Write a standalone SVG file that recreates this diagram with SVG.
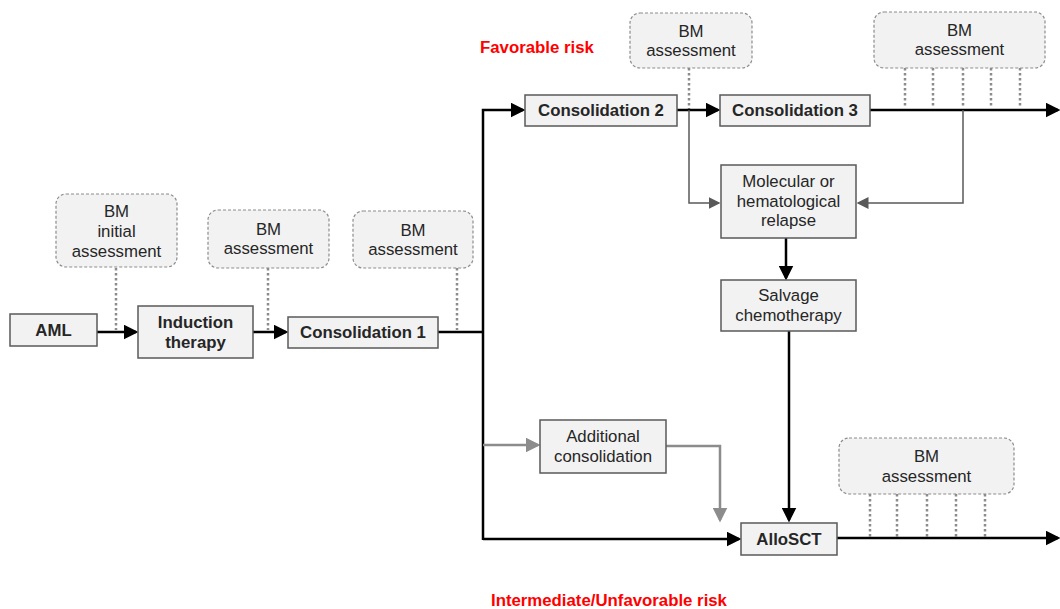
<svg xmlns="http://www.w3.org/2000/svg" width="1060" height="609" viewBox="0 0 1060 609">
<defs>
<style>
.box{fill:#f2f2f2;stroke:#595959;stroke-width:1.5}
.bm{fill:#f2f2f2;stroke:#8c8c8c;stroke-width:1.2;stroke-dasharray:3 2}
.t{font-family:"Liberation Sans",Arial,sans-serif;font-size:16.8px;fill:#262626;text-anchor:middle}
.b{font-weight:bold}
.red{font-family:"Liberation Sans",Arial,sans-serif;font-size:16.8px;font-weight:bold;fill:#ff0000}
.k{fill:none;stroke:#000;stroke-width:2.5}
.g{fill:none;stroke:#8c8c8c;stroke-width:2.5}
.d{fill:none;stroke:#595959;stroke-width:1.5}
.dot{fill:none;stroke:#8c8c8c;stroke-width:2.5;stroke-dasharray:2.5 2.5}
</style>
<marker id="ak" markerWidth="6" markerHeight="6" refX="5" refY="3" orient="auto" markerUnits="strokeWidth"><path d="M0,0 L6,3 L0,6 z" fill="#000"/></marker>
<marker id="ag" markerWidth="6" markerHeight="6" refX="5" refY="3" orient="auto" markerUnits="strokeWidth"><path d="M0,0 L6,3 L0,6 z" fill="#8c8c8c"/></marker>
<marker id="ad" markerWidth="8" markerHeight="8" refX="7" refY="4" orient="auto" markerUnits="strokeWidth"><path d="M0,0 L8,4 L0,8 z" fill="#595959"/></marker>
</defs>
<rect width="1060" height="609" fill="#fff"/>
<g id="connectors">
<path class="dot" d="M116,268 V330"/>
<path class="dot" d="M268,268 V330"/>
<path class="dot" d="M457,268 V330"/>
<path class="dot" d="M689,68 V110"/>
<path class="dot" d="M905,68 V108 M933,68 V108 M963,68 V108 M991,68 V108 M1020,68 V108"/>
<path class="dot" d="M870,494 V537 M897,494 V537 M927,494 V537 M956,494 V537 M985,494 V537"/>
<path class="k" d="M97,332 H136" marker-end="url(#ak)"/>
<path class="k" d="M253,332 H286" marker-end="url(#ak)"/>
<path class="k" d="M438,332 H483 M483,540 V110 H523" marker-end="url(#ak)"/>
<path class="k" d="M677,110 H718" marker-end="url(#ak)"/>
<path class="k" d="M870,110 H1058" marker-end="url(#ak)"/>
<path class="d" d="M689,110 V203 H719" marker-end="url(#ad)"/>
<path class="d" d="M963,110 V203 H858" marker-end="url(#ad)"/>
<path class="k" d="M786,238 V278" marker-end="url(#ak)"/>
<path class="k" d="M789,331 V520" marker-end="url(#ak)"/>
<path class="g" d="M483,445 H538" marker-end="url(#ag)"/>
<path class="g" d="M666,446 H720 V520" marker-end="url(#ag)"/>
<path class="k" d="M483,539 H739" marker-end="url(#ak)"/>
<path class="k" d="M837,538 H1058" marker-end="url(#ak)"/>
</g>
<g id="aml"><rect class="box" x="10" y="314" width="87" height="32"/><text class="t b" x="53.5" y="336">AML</text></g>
<g id="induction"><rect class="box" x="138" y="306" width="115" height="52"/><text class="t b" x="195.5" y="328">Induction</text><text class="t b" x="195.5" y="348">therapy</text></g>
<g id="cons1"><rect class="box" x="288" y="317" width="150" height="31"/><text class="t b" x="363" y="338">Consolidation 1</text></g>
<g id="bm1"><rect class="bm" x="56" y="194" width="121" height="73" rx="10"/><text class="t" x="116.5" y="217">BM</text><text class="t" x="116.5" y="237">initial</text><text class="t" x="116.5" y="257">assessment</text></g>
<g id="bm2"><rect class="bm" x="208" y="210" width="121" height="58" rx="10"/><text class="t" x="268.5" y="235">BM</text><text class="t" x="268.5" y="254">assessment</text></g>
<g id="bm3"><rect class="bm" x="353" y="211" width="120" height="57" rx="10"/><text class="t" x="413" y="236">BM</text><text class="t" x="413" y="255">assessment</text></g>
<g id="favorable"><text class="red" x="480" y="53">Favorable risk</text></g>
<g id="bm4"><rect class="bm" x="630" y="13" width="122" height="55" rx="10"/><text class="t" x="691" y="37">BM</text><text class="t" x="691" y="56">assessment</text></g>
<g id="cons2"><rect class="box" x="525" y="95" width="152" height="31"/><text class="t b" x="601" y="116">Consolidation 2</text></g>
<g id="cons3"><rect class="box" x="720" y="95" width="150" height="31"/><text class="t b" x="795" y="116">Consolidation 3</text></g>
<g id="bm5"><rect class="bm" x="874" y="12" width="171" height="56" rx="10"/><text class="t" x="959.5" y="36">BM</text><text class="t" x="959.5" y="55">assessment</text></g>
<g id="relapse"><rect class="box" x="721" y="165" width="135" height="73"/><text class="t" x="788.5" y="187">Molecular or</text><text class="t" x="788.5" y="207">hematological</text><text class="t" x="788.5" y="226">relapse</text></g>
<g id="salvage"><rect class="box" x="721" y="280" width="135" height="51"/><text class="t" x="788.5" y="301">Salvage</text><text class="t" x="788.5" y="321">chemotherapy</text></g>
<g id="additional"><rect class="box" x="540" y="420" width="126" height="53"/><text class="t" x="603" y="442">Additional</text><text class="t" x="603" y="462">consolidation</text></g>
<g id="allosct"><rect class="box" x="741" y="523" width="96" height="32"/><text class="t b" x="789" y="545">AlloSCT</text></g>
<g id="bm6"><rect class="bm" x="839" y="438" width="175" height="56" rx="10"/><text class="t" x="926.5" y="462">BM</text><text class="t" x="926.5" y="482">assessment</text></g>
<g id="unfavorable"><text class="red" x="491" y="606">Intermediate/Unfavorable risk</text></g>
</svg>
